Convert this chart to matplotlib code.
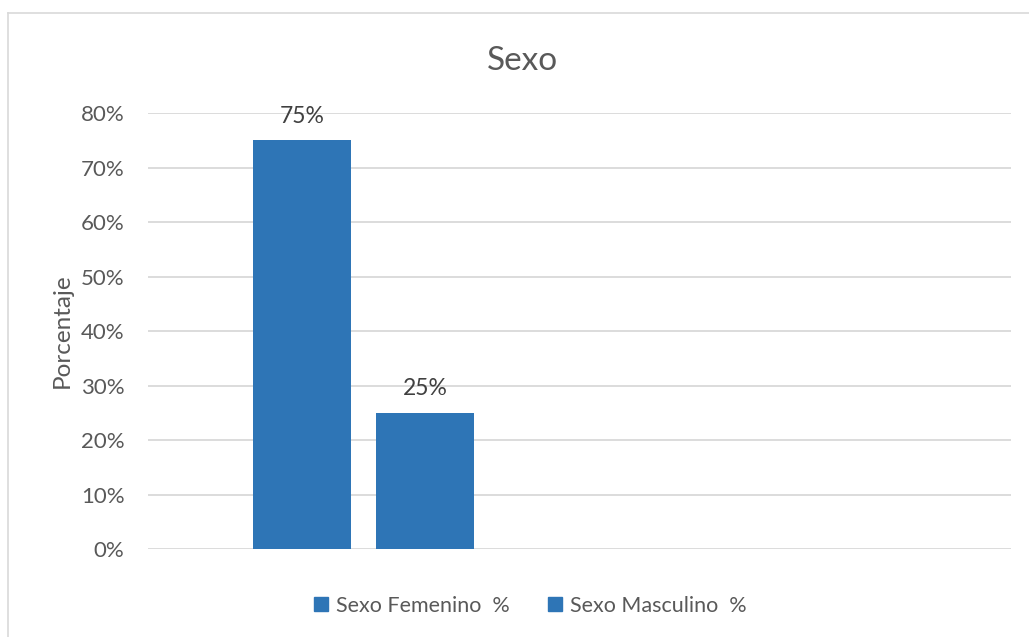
import numpy as np
import matplotlib.pyplot as plt
from matplotlib.lines import Line2D
from matplotlib.ticker import PercentFormatter

plt.rcParams['font.family'] = ['Lato', 'DejaVu Sans']

CATEGORIES = ['', '']
SERIES = ['Sexo Femenino  %', 'Sexo Masculino  %']
VALUES = [[0.75, np.nan], [0.25, np.nan]]
LABELS = ['75%', '25%']

BAR_COLOUR = '#2E75B6'
TEXT_COLOUR = '#595959'
GRID_COLOUR = '#D9D9D9'

fig = plt.figure(figsize=(10.29, 6.37), dpi=100)
fig.patch.set_facecolor('white')
ax = fig.add_axes([0.1438, 0.1381, 0.8387, 0.6845])

x = np.arange(len(CATEGORIES))
width = 0.227
offsets = [-0.1425, 0.1425]
for vals, off, lab in zip(VALUES, offsets, LABELS):
    bars = ax.bar(x + off, vals, width, color=BAR_COLOUR, zorder=3)
    b = bars[0]
    ax.text(b.get_x() + b.get_width() / 2, b.get_height() + 0.044, lab,
            ha='center', va='center', fontsize=16.5, color='#404040')

ax.set_xlim(-0.5, 1.5)
ax.set_ylim(0, 0.8)
ax.set_yticks(np.arange(0, 0.81, 0.1))
ax.yaxis.set_major_formatter(PercentFormatter(1.0, decimals=0))
ax.set_xticks([])
ax.tick_params(axis='y', length=0, pad=17, labelsize=16, labelcolor=TEXT_COLOUR)
ax.yaxis.grid(True, color=GRID_COLOUR, linewidth=1.3, zorder=0)
for s in ax.spines.values():
    s.set_visible(False)
ax.set_ylabel('Porcentaje', fontsize=17.5, color=TEXT_COLOUR, labelpad=6)

fig.text(0.508, 0.904, 'Sexo', ha='center', va='center', fontsize=24, color=TEXT_COLOUR)

handles = [Line2D([], [], marker='s', linestyle='none', markersize=9.5,
                  markerfacecolor=BAR_COLOUR, markeredgecolor=BAR_COLOUR) for _ in SERIES]
fig.legend(handles, SERIES, loc='center', bbox_to_anchor=(0.515, 0.049), ncol=2,
           frameon=False, fontsize=15.5, labelcolor=TEXT_COLOUR,
           handletextpad=0.3, columnspacing=1.7, handlelength=0.8)

# outer chart frame (left and top edges visible)
fig.add_artist(Line2D([8 / 1029, 8 / 1029], [0, 1 - 13 / 637], transform=fig.transFigure,
                      color='#D9D9D9', linewidth=1.2))
fig.add_artist(Line2D([8 / 1029, 1], [1 - 13 / 637, 1 - 13 / 637], transform=fig.transFigure,
                      color='#D9D9D9', linewidth=1.2))

fig.savefig('out.png', dpi=100)
